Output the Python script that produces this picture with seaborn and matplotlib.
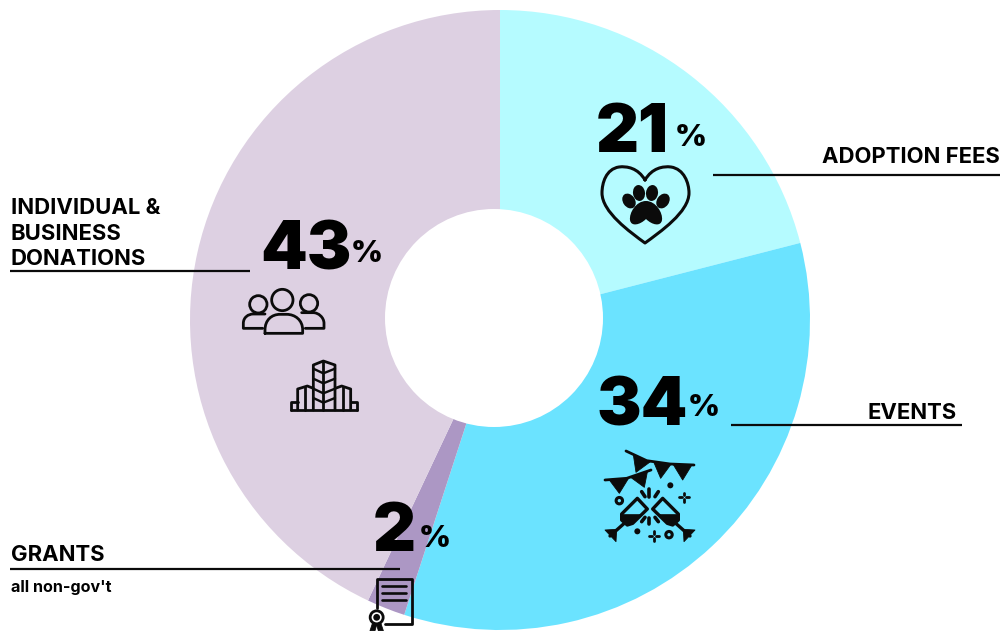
import numpy as np
import matplotlib
matplotlib.use("Agg")
import matplotlib.pyplot as plt
from matplotlib.patches import Circle, Ellipse, PathPatch, Polygon
from matplotlib.path import Path
import seaborn as sns

categories = ["ADOPTION FEES", "EVENTS", "GRANTS", "INDIVIDUAL &\nBUSINESS\nDONATIONS"]
values = [21, 34, 2, 43]
colors = ["#B5FBFF", "#6BE3FF", "#AC97C4", "#DDD0E2"]
subnote = "all non-gov't"

sns.set_theme(style="white")
FONT = ["Inter", "DejaVu Sans"]
plt.rcParams["font.family"] = FONT

W, H = 1004, 631
fig = plt.figure(figsize=(W / 100, H / 100), dpi=100, facecolor="white")

# donut body
ax = fig.add_axes([190 / W, 1 - 630 / H, 620 / W, 620 / H])
ax.pie(values, colors=sns.color_palette(colors), startangle=90, counterclock=False,
       radius=1, wedgeprops=dict(linewidth=0))
ax.set_xlim(-1, 1)
ax.set_ylim(-1, 1)
ax.set_aspect("equal")
ax.axis("off")

# overlay in pixel coordinates for hole, annotations and pictograms
ov = fig.add_axes([0, 0, 1, 1], facecolor="none")
ov.set_xlim(0, W)
ov.set_ylim(H, 0)
ov.axis("off")
K = "#0B0B0B"
ov.add_patch(Circle((494, 318), 109, fc="white", ec="none"))


def line(pts, lw=2.0, c=K, cap="round"):
    p = np.array(pts, float)
    ov.plot(p[:, 0], p[:, 1], color=c, lw=lw, solid_capstyle=cap, solid_joinstyle="round")


def z(ox, oy, pts):
    return [(ox + a / 3, oy + b / 3) for a, b in pts]


def tri(pts):
    ov.add_patch(Polygon(pts, closed=True, fc=K, ec=K, lw=0.6, joinstyle="round"))


def curve(pts, codes, fc="none", lw=2.0):
    ov.add_patch(PathPatch(Path(pts, codes), fc=fc, ec=K if fc == "none" else "none", lw=lw,
                           capstyle="round", joinstyle="round"))


def big(x, y, s):
    ov.text(x, y, s, fontsize=48, fontweight="black", color="black", ha="left", va="baseline")


def pct(x, y):
    ov.text(x, y, "%", fontsize=22, fontweight="black", color="black", ha="left", va="baseline")


def label(x, y, s, size=15.9, ha="left"):
    ov.text(x, y, s, fontsize=size, fontweight="bold", color="black", ha=ha, va="baseline")


# numbers
big(596, 152, "21"); pct(675, 146)
big(597, 425, "34"); pct(688, 416)
big(260, 270, "43"); pct(351, 262)
big(373, 551, "2"); pct(419, 547)

# labels
label(1000, 163, categories[0], ha="right")
label(957, 419, categories[1], ha="right")
label(11, 561, categories[2])
for row, txt in zip([214, 239.5, 265], categories[3].split("\n")):
    label(11, row, txt)
ov.text(11, 592, subnote, fontsize=11.6, fontweight="bold", color="black", ha="left", va="baseline")

line([(713, 175), (1000, 175)], lw=1.6, cap="butt")
line([(731, 425), (962, 425)], lw=1.6, cap="butt")
line([(10, 271), (250, 271)], lw=1.6, cap="butt")
line([(10, 569), (400, 569)], lw=1.6, cap="butt")

M, C4, L2 = Path.MOVETO, Path.CURVE4, Path.LINETO

# --- paw heart ---
heart = [(645, 180), (638, 168), (627, 166), (619, 167), (606, 169), (602, 183), (602, 193),
         (602, 212), (630, 232), (645, 243), (660, 232), (689, 212), (689, 193),
         (689, 183), (684, 169), (671, 167), (663, 166), (652, 168), (645, 180)]
curve(heart, [M] + [C4] * 18, lw=2.2)
for (x, y, w, h, a) in [(629, 201, 12, 16, -35), (639, 193, 12, 16, -8),
                        (652, 193, 12, 16, 8), (663, 201, 12, 16, 35)]:
    ov.add_patch(Ellipse((x, y), w, h, angle=a, fc=K, ec="none"))
pad = [(646, 201), (636, 201), (629, 213), (630, 220), (631, 227), (640, 225), (646, 219),
       (652, 225), (661, 227), (662, 220), (663, 213), (656, 201), (646, 201)]
curve(pad, [M] + [C4] * 12, fc=K)

# --- party ---
E = lambda pts: z(590, 440, pts)
line(E([(108, 33), (170, 62), (240, 72), (312, 75)]), lw=2.0)
line(E([(45, 120), (110, 115), (183, 90)]), lw=2.0)
for t in [[(130, 44), (180, 66), (138, 97)], [(192, 68), (242, 74), (212, 115)],
          [(250, 74), (305, 76), (278, 120)], [(58, 120), (115, 116), (88, 160)],
          [(122, 112), (172, 96), (163, 142)]]:
    tri(E(t))
for sign in (1, -1):
    mx = lambda p: [(180 + sign * (a - 180), b) for a, b in p]
    ov.add_patch(Polygon(E(mx([(142, 175), (172, 207), (128, 250), (112, 255), (95, 240), (95, 222)])),
                         closed=True, fc="none", ec=K, lw=2.4, joinstyle="round"))
    tri(E(mx([(155, 224), (128, 250), (112, 255), (95, 240), (95, 224)])))
    line(E(mx([(105, 248), (60, 288)])), lw=2.4)
    tri(E(mx([(45, 270), (80, 268), (78, 305)])))
    line(E(mx([(155, 155), (165, 170)])), lw=2.6)
    line(E(mx([(155, 245), (165, 232)])), lw=2.6)
line(E([(178, 148), (178, 170)]), lw=2.6)
line(E([(178, 233), (178, 253)]), lw=2.6)
for (x, y, r) in [(241, 136, 9), (142, 274, 9)]:
    ov.add_patch(Circle(E([(x, y)])[0], r / 3, fc=K, ec="none"))
for (x, y) in [(88, 182), (237, 284)]:
    ov.add_patch(Circle(E([(x, y)])[0], 3.2, fc="none", ec=K, lw=2.2))
for (x, y) in [(282, 172), (192, 288)]:
    for dx, dy in [(1, 0), (-1, 0), (0, 1), (0, -1)]:
        line(E([(x + dx * 6, y + dy * 6), (x + dx * 14, y + dy * 14)]), lw=2.0)

# --- people ---
P = lambda pts: z(230, 280, pts)
for (x, y, r) in [(157, 60, 32), (85, 73, 26), (237, 70, 26)]:
    ov.add_patch(Circle(P([(x, y)])[0], r / 3, fc="none", ec=K, lw=2.0))
curve(P([(105, 160), (218, 160), (218, 150), (218, 120), (195, 103), (170, 103),
         (150, 103), (125, 103), (105, 120), (105, 150), (105, 160)]),
      [M, L2, L2, C4, C4, C4, L2, C4, C4, C4, L2])
curve(P([(98, 145), (40, 145), (40, 130), (40, 112), (55, 102), (70, 102), (105, 102)]),
      [M, L2, L2, C4, C4, C4, L2])
curve(P([(226, 145), (282, 145), (282, 130), (282, 112), (265, 98), (250, 98), (215, 98)]),
      [M, L2, L2, C4, C4, C4, L2])

# --- buildings ---
line(P([(183, 390), (382, 390)]))
line(P([(183, 390), (183, 367), (203, 367)]))
line(P([(382, 390), (382, 367), (362, 367)]))
line(P([(203, 390), (203, 327), (232, 318), (250, 325)]))
line(P([(362, 390), (362, 327), (335, 318), (316, 325)]))
line(P([(226, 322), (226, 390)]))
line(P([(340, 322), (340, 390)]))
line(P([(250, 390), (250, 255), (280, 243), (315, 255), (315, 390)]))
line(P([(280, 243), (280, 390)]))
for yy in [280, 310, 340, 368]:
    line(P([(250, yy - 14), (280, yy), (315, yy - 14)]), lw=1.7)

# --- certificate ---
Q = lambda pts: z(350, 500, pts)
line(Q([(80, 325), (80, 238), (185, 238), (185, 372), (105, 372)]))
for yy in [258, 280, 301]:
    line(Q([(97, yy), (167, yy)]), lw=1.9)
cx, cy = Q([(80, 352)])[0]
ov.add_patch(Circle((cx, cy), 6.5, fc="white", ec=K, lw=2.0))
ov.add_patch(Circle((cx, cy), 3.4, fc=K, ec="none"))
tri(Q([(68, 368), (60, 392), (75, 392), (80, 375)]))
tri(Q([(92, 368), (100, 392), (85, 392), (80, 375)]))

fig.savefig("out.png", dpi=100, facecolor="white")
